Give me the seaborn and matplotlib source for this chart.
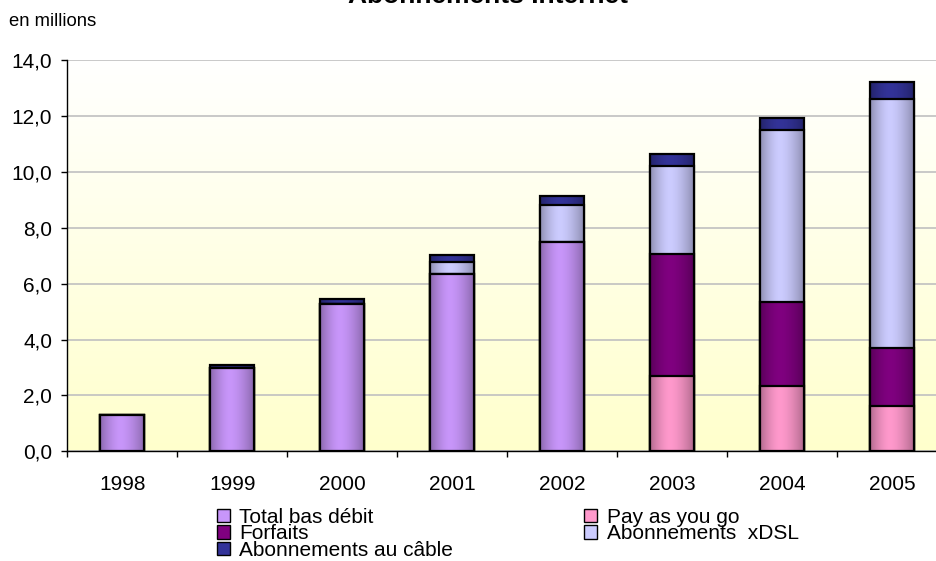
import numpy as np
import pandas as pd
import matplotlib.pyplot as plt
import seaborn as sns
from matplotlib.patches import Patch
from matplotlib.ticker import FixedLocator, FuncFormatter
from matplotlib.colors import to_rgb

years = ['1998', '1999', '2000', '2001', '2002', '2003', '2004', '2005']
bas_debit = [1.30, 2.98, 5.26, 6.34, 7.49, 0.0, 0.0, 0.0]
pay_as_you_go = [0.0, 0.0, 0.0, 0.0, 0.0, 2.69, 2.34, 1.63]
forfaits = [0.0, 0.0, 0.0, 0.0, 0.0, 4.37, 2.99, 2.07]
xdsl = [0.0, 0.0, 0.0, 0.42, 1.33, 3.13, 6.15, 8.92]
cable = [0.0, 0.10, 0.18, 0.25, 0.31, 0.45, 0.46, 0.59]

df = pd.DataFrame({'year': years, 'bas': bas_debit, 'pay': pay_as_you_go,
                   'forfaits': forfaits, 'xdsl': xdsl, 'cable': cable})
df['c1'] = df['bas'] + df['pay']
df['c2'] = df['c1'] + df['forfaits']
df['c3'] = df['c2'] + df['xdsl']
df['c4'] = df['c3'] + df['cable']

sns.set_style('white')
plt.rcParams['font.family'] = ['Liberation Sans', 'DejaVu Sans']
plt.rcParams['text.color'] = 'black'
plt.rcParams['xtick.color'] = 'black'
plt.rcParams['ytick.color'] = 'black'

fig = plt.figure(figsize=(9.36, 5.61), dpi=100)
ax = fig.add_axes([67.3 / 936, 1 - 451.3 / 561, 880 / 936, (451.3 - 60) / 561])

# yellowish background gradient, white at top
grad = np.linspace(0, 1, 256)[:, None]
top, bot = np.array(to_rgb('#FFFFFF')), np.array(to_rgb('#FFFFCC'))
bg = top[None, None, :] * (1 - grad[..., None]) + bot[None, None, :] * grad[..., None]
ax.imshow(bg, extent=[0, 1, 0, 1], transform=ax.transAxes, aspect='auto', zorder=0)

# drawn tallest first, each shorter layer covers the one behind
layers = [
    ('c4', '#333399', 'Abonnements au câble'),
    ('c3', '#CCCCFF', 'Abonnements  xDSL'),
    ('c2', '#800080', 'Forfaits'),
    ('pay', '#FF99CC', 'Pay as you go'),
    ('bas', '#C896FA', 'Total bas débit'),
]

t = np.linspace(0, 1, 64)
d = np.where(t < 0.45, (t - 0.45) / 0.45, (t - 0.45) / 0.55)
shade = 1 - 0.3 * np.abs(d) ** 1.6

for i, (col, color, label) in enumerate(layers):
    n_before = len(ax.patches)
    sns.barplot(x=df['year'], y=df[col], color=color, width=0.4, saturation=1,
                errorbar=None, ax=ax)
    rgb = np.array(to_rgb(color))
    img = (rgb[None, None, :] * shade[None, :, None]).clip(0, 1)
    z = 2 + 2 * i
    for p in ax.patches[n_before:]:
        x0, y0, w, h = p.get_x(), p.get_y(), p.get_width(), p.get_height()
        if h <= 0:
            p.set_visible(False)
            continue
        ax.imshow(img, extent=[x0, x0 + w, y0, y0 + h], aspect='auto',
                  interpolation='bilinear', zorder=z)
        p.set_facecolor('none')
        p.set_edgecolor('black')
        p.set_linewidth(1.6)
        p.set_zorder(z + 1)

ax.set_xlim(-0.5, 7.5)
ax.set_ylim(0, 14)
ax.set_yticks(np.arange(0, 14.1, 2))
ax.yaxis.set_major_formatter(FuncFormatter(lambda v, _: f'{v:.1f}'.replace('.', ',')))
ax.set_xlabel('')
ax.set_ylabel('')

ax.yaxis.grid(True, color='#C0C0C0', linewidth=1.2, zorder=1)
ax.set_axisbelow(True)
for s in ['top', 'right']:
    ax.spines[s].set_visible(False)
for s in ['left', 'bottom']:
    ax.spines[s].set_color('black')
    ax.spines[s].set_linewidth(1.0)
    ax.spines[s].set_zorder(20)

ax.xaxis.set_minor_locator(FixedLocator(np.arange(-0.5, 7.6, 1)))
ax.tick_params(axis='x', which='major', length=0, pad=17, labelsize=15)
ax.tick_params(axis='x', which='minor', length=4, width=1, color='black', direction='out', bottom=True)
ax.tick_params(axis='y', which='major', length=4, width=1, color='black', direction='out',
               left=True, pad=7, labelsize=15)

fig.text(0.521, 1 - 3 / 561, 'Abonnements Internet', ha='center', va='baseline',
         fontsize=19, weight='bold')
fig.text(9 / 936, 1 - 21 / 561, 'en millions', ha='left', va='center', fontsize=13.3)

order = [4, 2, 0, 3, 1]
handles = [Patch(facecolor=layers[k][1], edgecolor='black', linewidth=1) for k in order]
labels = [layers[k][2] for k in order]
fig.legend(handles, labels, loc='upper left', bbox_to_anchor=(217 / 936, 1 - 508 / 561),
           bbox_transform=fig.transFigure, ncol=2, frameon=False, fontsize=15,
           handlelength=0.62, handleheight=0.62, handletextpad=0.45,
           labelspacing=-0.13, columnspacing=6.3, borderpad=0, borderaxespad=0)

fig.savefig('out.png', dpi=100)
